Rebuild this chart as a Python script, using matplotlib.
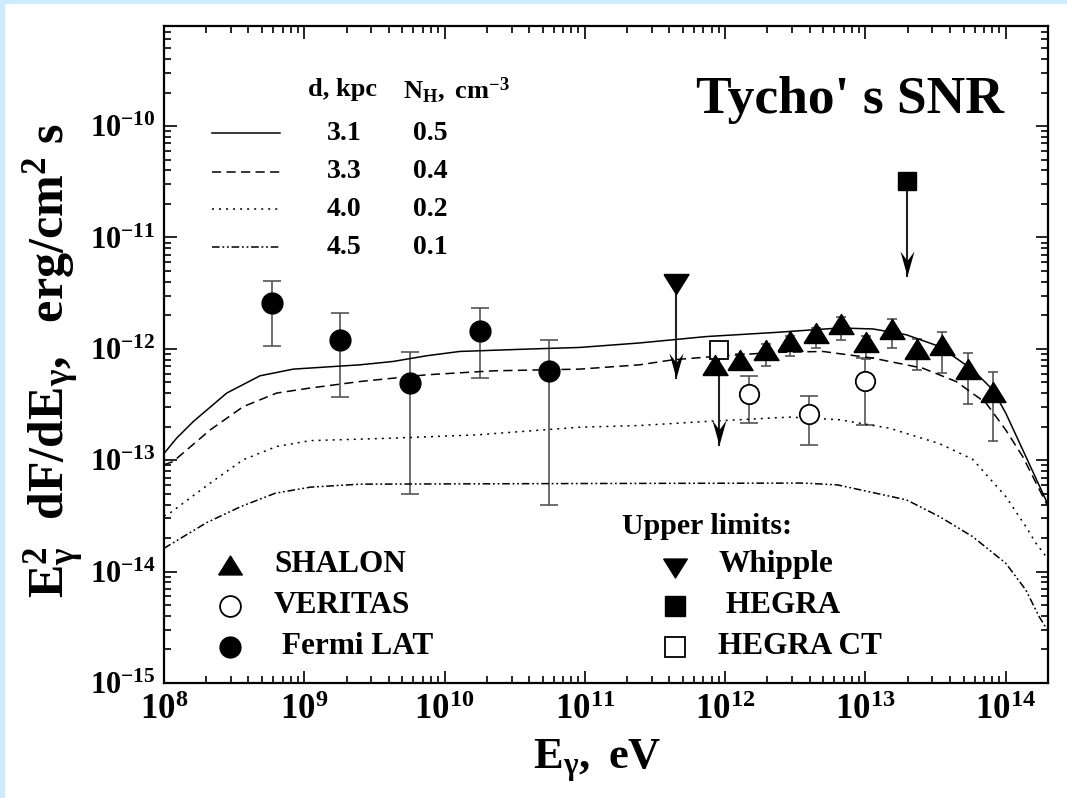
import numpy as np
import matplotlib
matplotlib.use("Agg")
import matplotlib.pyplot as plt
from matplotlib.ticker import LogLocator, FuncFormatter, NullFormatter
from matplotlib.patches import Rectangle

plt.rcParams["font.family"] = ["Liberation Serif", "DejaVu Serif"]
plt.rcParams["font.weight"] = "bold"
plt.rcParams["axes.labelweight"] = "bold"
plt.rcParams["mathtext.fontset"] = "custom"
plt.rcParams["mathtext.rm"] = "Liberation Serif:bold"
plt.rcParams["mathtext.it"] = "Liberation Serif:italic:bold"
plt.rcParams["mathtext.bf"] = "Liberation Serif:bold"

# model curves (d, kpc / N_H, cm^-3)
d_kpc = ["3.1", "3.3", "4.0", "4.5"]
n_h = ["0.5", "0.4", "0.2", "0.1"]

e_solid = [1.0e8, 1.23e8, 1.62e8, 2.80e8, 4.83e8, 8.34e8, 2.49e9, 4.30e9, 7.43e9, 1.28e10,
           3.83e10, 9.18e10, 2.45e11, 7.33e11, 2.19e12, 6.53e12, 1.13e13, 1.95e13, 3.37e13,
           5.81e13, 8.07e13, 1.0e14, 1.39e14, 1.97e14]
f_solid = [1.15e-13, 1.58e-13, 2.23e-13, 4.01e-13, 5.73e-13, 6.58e-13, 7.19e-13, 7.71e-13,
           8.67e-13, 9.48e-13, 9.95e-13, 1.03e-12, 1.13e-12, 1.29e-12, 1.40e-12, 1.54e-12,
           1.51e-12, 1.34e-12, 1.05e-12, 6.49e-13, 4.30e-13, 2.65e-13, 1.08e-13, 4.17e-14]

e_dash = [1.0e8, 1.16e8, 2.13e8, 3.67e8, 6.35e8, 1.10e9, 2.49e9, 7.43e9, 2.21e10, 9.18e10,
          2.45e11, 4.24e11, 7.33e11, 2.19e12, 4.97e12, 1.13e13, 2.56e13, 4.43e13, 7.24e13,
          1.0e14, 1.32e14, 1.97e14]
f_dash = [9.12e-14, 9.72e-14, 1.87e-13, 3.03e-13, 4.01e-13, 4.45e-13, 5.09e-13, 5.85e-13,
          6.35e-13, 6.58e-13, 7.19e-13, 7.98e-13, 8.43e-13, 9.29e-13, 9.48e-13, 8.26e-13,
          6.71e-13, 5.09e-13, 3.26e-13, 1.87e-13, 1.08e-13, 3.98e-14]

e_dot = [1.0e8, 1.10e8, 2.13e8, 3.67e8, 6.35e8, 1.10e9, 4.30e9, 1.69e10, 9.18e10, 2.45e11,
         7.33e11, 2.88e12, 6.53e12, 1.48e13, 3.37e13, 5.81e13, 1.0e14, 1.39e14, 1.64e14, 1.97e14]
f_dot = [3.16e-14, 3.35e-14, 6.22e-14, 1.01e-13, 1.33e-13, 1.50e-13, 1.58e-13, 1.69e-13,
         1.98e-13, 2.05e-13, 2.23e-13, 2.44e-13, 2.31e-13, 1.94e-13, 1.41e-13, 1.02e-13,
         4.72e-14, 2.54e-14, 1.80e-14, 1.33e-14]

e_dashdot = [1.0e8, 2.01e8, 3.53e8, 6.22e8, 1.10e9, 2.49e9, 9.18e10, 3.61e12, 6.31e12, 1.96e13,
             3.37e13, 5.81e13, 1.0e14, 1.39e14, 1.73e14, 1.97e14]
f_dashdot = [1.62e-14, 2.75e-14, 3.84e-14, 5.06e-14, 5.73e-14, 6.10e-14, 6.18e-14, 6.24e-14,
             6.01e-14, 4.41e-14, 3.12e-14, 2.06e-14, 1.19e-14, 6.84e-15, 3.94e-15, 3.02e-15]

# Fermi LAT
fermi_e = [5.84e8, 1.80e9, 5.68e9, 1.80e10, 5.55e10]
fermi_f = [2.58e-12, 1.21e-12, 4.94e-13, 1.45e-12, 6.32e-13]
fermi_hi = [4.09e-12, 2.08e-12, 9.42e-13, 2.34e-12, 1.21e-12]
fermi_lo = [1.07e-12, 3.73e-13, 4.99e-14, 5.47e-13, 4.0e-14]

# SHALON
shalon_e = [8.49e11, 1.28e12, 1.94e12, 2.92e12, 4.43e12, 6.67e12, 1.01e13, 1.54e13, 2.32e13,
            3.52e13, 5.35e13, 8.07e13]
shalon_f = [7.14e-13, 7.92e-13, 9.75e-13, 1.17e-12, 1.40e-12, 1.67e-12, 1.16e-12, 1.52e-12,
            9.95e-13, 1.09e-12, 6.57e-13, 4.12e-13]
shalon_hi = [7.14e-13, 9.0e-13, 1.10e-12, 1.30e-12, 1.55e-12, 1.95e-12, 1.30e-12, 1.86e-12,
             1.23e-12, 1.42e-12, 9.16e-13, 6.14e-13]
shalon_lo = [7.14e-13, 6.4e-13, 6.95e-13, 8.55e-13, 1.02e-12, 1.21e-12, 8.15e-13, 1.02e-12,
             6.49e-13, 6.06e-13, 3.21e-13, 1.49e-13]

# VERITAS
veritas_e = [1.49e12, 3.99e12, 9.95e12]
veritas_f = [3.95e-13, 2.59e-13, 5.14e-13]
veritas_hi = [5.65e-13, 3.79e-13, 8.2e-13]
veritas_lo = [2.18e-13, 1.37e-13, 2.08e-13]

# upper limits: value and arrow tip
whipple_e, whipple_f, whipple_tip = 4.49e11, 3.85e-12, 5.47e-13
hegra_e, hegra_f, hegra_tip = 1.97e13, 3.19e-11, 4.47e-12
hegract_e, hegract_f, hegract_tip = 8.97e11, 9.7e-13, 1.37e-13

x_ticks = [1e8, 1e9, 1e10, 1e11, 1e12, 1e13, 1e14]
y_ticks = [1e-15, 1e-14, 1e-13, 1e-12, 1e-11, 1e-10]

tri_up = [(-1, -0.8), (1, -0.8), (0, 0.8), (-1, -0.8)]
tri_dn = [(-1, 0.8), (1, 0.8), (0, -0.8), (-1, 0.8)]
arrow_head = [(0, 0), (-0.28, 1), (0, 0.62), (0.28, 1), (0, 0)]

fig = plt.figure(figsize=(10.67, 7.98), dpi=100)
ax = fig.add_axes([0.1537, 0.1441, 0.8285, 0.8239])

styles = ["-", (0, (6, 3.5)), (0, (1.3, 3.3)), (0, (5, 1.8, 1.2, 1.8, 1.2, 1.8))]
curves = [(e_solid, f_solid), (e_dash, f_dash), (e_dot, f_dot), (e_dashdot, f_dashdot)]
for (ce, cf), ls in zip(curves, styles):
    ax.plot(ce, cf, color="k", lw=1.1, ls=ls, zorder=3)

def err(f, lo, hi):
    f = np.array(f)
    return [f - np.array(lo), np.array(hi) - f]

ecol = "#555555"
ax.errorbar(fermi_e, fermi_f, yerr=err(fermi_f, fermi_lo, fermi_hi), fmt="none",
            ecolor=ecol, elinewidth=1.2, capsize=6.8, capthick=1.2, zorder=2)
ax.errorbar(shalon_e, shalon_f, yerr=err(shalon_f, shalon_lo, shalon_hi), fmt="none",
            ecolor=ecol, elinewidth=1.2, capsize=3.6, capthick=1.2, zorder=2)
ax.errorbar(veritas_e, veritas_f, yerr=err(veritas_f, veritas_lo, veritas_hi), fmt="none",
            ecolor=ecol, elinewidth=1.2, capsize=6.5, capthick=1.2, zorder=2)

# upper limit arrows
for ue, uf, ut in [(whipple_e, whipple_f, whipple_tip), (hegra_e, hegra_f, hegra_tip),
                   (hegract_e, hegract_f, hegract_tip)]:
    ax.plot([ue, ue], [uf, ut], color="#222222", lw=1.5, zorder=4)
    ax.plot(ue, ut, ls="none", marker=arrow_head, ms=36, color="k", mew=0, zorder=4)

ax.plot(fermi_e, fermi_f, "o", ms=15, color="k", zorder=5)
ax.plot(veritas_e, veritas_f, "o", ms=14, mfc="white", mec="k", mew=1.3, zorder=5)
ax.plot(hegract_e, hegract_f, "s", ms=12.5, mfc="white", mec="k", mew=1.3, zorder=5)
ax.plot(shalon_e, shalon_f, ls="none", marker=tri_up, ms=18, color="k", zorder=6)
ax.plot(whipple_e, whipple_f, ls="none", marker=tri_dn, ms=18, color="k", zorder=6)
ax.plot(hegra_e, hegra_f, "s", ms=13, color="k", zorder=6)

ax.set_xscale("log")
ax.set_yscale("log")
ax.set_xlim(1e8, 2e14)
ax.set_ylim(1e-15, 8e-10)

fmt = FuncFormatter(lambda v, pos: r"$\mathregular{10^{%d}}$" % round(np.log10(v)))
ax.set_xticks(x_ticks)
ax.set_yticks(y_ticks)
for axis in (ax.xaxis, ax.yaxis):
    axis.set_minor_locator(LogLocator(base=10, subs=np.arange(2, 10), numticks=20))
    axis.set_major_formatter(fmt)
    axis.set_minor_formatter(NullFormatter())
ax.tick_params(which="both", direction="in", top=True, right=True, width=1.2)
ax.tick_params(which="major", length=9)
ax.tick_params(which="minor", length=5)
ax.tick_params(axis="x", labelsize=25, pad=8)
ax.tick_params(axis="y", labelsize=22, pad=6)
for sp in ax.spines.values():
    sp.set_linewidth(1.6)

ax.set_xlabel(r"$\mathregular{E_{\gamma},\ eV}$", fontsize=32, fontweight="bold")
ax.xaxis.set_label_coords(0.49, -0.083)
ax.set_ylabel(r"$\mathregular{E_{\gamma}^{2}\ \ dF/dE_{\gamma},\ \ erg/cm^{2}\ s}$",
              fontsize=36, fontweight="bold")
ax.yaxis.set_label_coords(-0.088, 0.49)

ax.text(0.95, 0.867, "Tycho' s SNR", transform=ax.transAxes, fontsize=38.5,
        ha="right", va="baseline")

# model legend
ax.text(0.2014, 0.902, "d, kpc", transform=ax.transAxes, fontsize=19, ha="center", va="center")
ax.text(0.331, 0.902, r"$\mathregular{N_{H},\ cm^{-3}}$", transform=ax.transAxes, fontsize=19,
        ha="center", va="center")
row_y = [0.836, 0.7776, 0.7203, 0.6626]
for ls, dk, nh, yy in zip(styles, d_kpc, n_h, row_y):
    ax.plot([0.0543, 0.1312], [yy, yy], transform=ax.transAxes, color="k", lw=1.1, ls=ls)
    ax.text(0.2036, yy, dk, transform=ax.transAxes, fontsize=20, ha="center", va="center")
    ax.text(0.3009, yy, nh, transform=ax.transAxes, fontsize=20, ha="center", va="center")

# data legend
leg_y = [0.1795, 0.1176, 0.0552]
ax.plot(0.0747, leg_y[0], ls="none", marker=tri_up, ms=17, color="k", transform=ax.transAxes)
ax.plot(0.0747, leg_y[1], "o", ms=15, mfc="white", mec="k", mew=1.3, transform=ax.transAxes)
ax.plot(0.0747, leg_y[2], "o", ms=15, color="k", transform=ax.transAxes)
for name, yy in zip(["SHALON", "VERITAS", " Fermi LAT"], leg_y):
    ax.text(0.1244, yy, name, transform=ax.transAxes, fontsize=22.5, ha="left", va="center")

ax.text(0.518, 0.2377, "Upper limits:", transform=ax.transAxes, fontsize=21.5,
        ha="left", va="center")
ax.plot(0.5786, leg_y[0] - 0.005, ls="none", marker=tri_dn, ms=17, color="k", transform=ax.transAxes)
ax.plot(0.5786, leg_y[1], "s", ms=14, color="k", transform=ax.transAxes)
ax.plot(0.5786, leg_y[2], "s", ms=14, mfc="white", mec="k", mew=1.3, transform=ax.transAxes)
for name, yy in zip(["Whipple", " HEGRA", "HEGRA CT"], leg_y):
    ax.text(0.627, yy, name, transform=ax.transAxes, fontsize=22.5, ha="left", va="center")

# light blue frame strips
fig.patches.append(Rectangle((0, 0), 4 / 1067, 1, transform=fig.transFigure,
                             color="#cdebfd", zorder=0))
fig.patches.append(Rectangle((0, 1 - 3 / 798), 1, 3 / 798, transform=fig.transFigure,
                             color="#cdebfd", zorder=0))

fig.savefig("out.png", dpi=100)
